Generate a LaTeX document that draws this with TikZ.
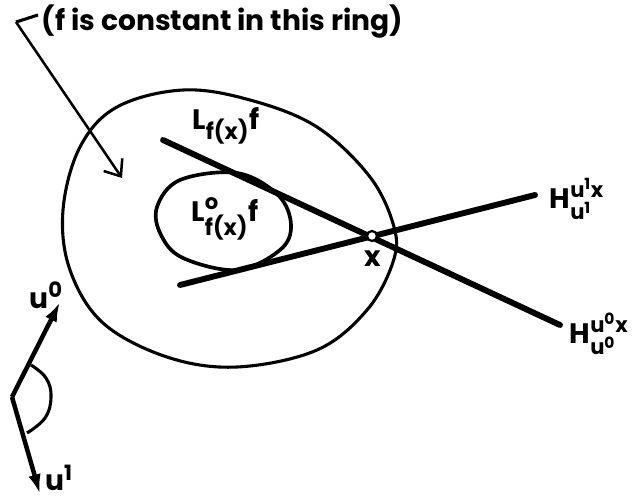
\documentclass[tikz,border=0pt]{standalone}
\usepackage{amsmath}
\usepackage{fontspec}
\setmainfont{Poppins}
\usetikzlibrary{arrows.meta}

% index text at a fixed size
\newcommand{\idx}[1]{\text{\fontsize{15}{15}\selectfont\bfseries #1}}
\newcommand{\idxl}[1]{\text{\fontsize{16}{16}\selectfont\bfseries #1}}
\newcommand{\idxx}[1]{\text{\fontsize{11}{11}\selectfont\bfseries #1}}

\begin{document}
\begin{tikzpicture}[
        x=0.025cm, y=-0.025cm,
        font=\fontsize{20}{22}\selectfont\bfseries,
        ring/.style={draw=black, line width=2.2pt},
        level/.style={draw=black, line width=4.2pt, line cap=round},
        pointer/.style={draw=black, line width=1.8pt, -{Straight Barb[length=10pt, width=16pt]}},
        vec/.style={draw=black, line width=3.2pt, -{Latex[length=14pt, width=9pt]}},
        lab/.style={inner sep=1pt}
    ]
    \useasboundingbox (0,0) rectangle (636,499);

    % Note on the ring
    \node[lab, anchor=west] (ringnote) at (40,22) {(f is constant in this ring)};
    \coordinate (hook) at (16,22);
    \coordinate (hookend) at (38,15);
    \coordinate (ringtip) at (122,178);
    \draw[ring] (hook) -- (hookend);
    \draw[pointer] (hook) -- (ringtip);

    % Outer ring
    \draw[ring] plot[smooth cycle, tension=0.6] coordinates {
        (183,90) (250,100) (317,127) (370,177) (394,227) (393,262)
        (367,310) (317,350) (237,367) (167,357) (103,323) (70,270)
        (63,210) (80,147) (117,107)};

    % Inner set
    \draw[ring, line width=2.6pt] plot[smooth cycle, tension=0.6] coordinates {
        (157,207) (180,180) (237,173) (278,195) (291,225) (280,250)
        (237,270) (183,258) (161,235)};

    % Lines through x
    \coordinate (x) at (372,236);
    \coordinate (lstart) at (163,140);
    \coordinate (lend) at (560,325);
    \coordinate (hstart) at (180,285);
    \coordinate (hend) at (535,195);
    \draw[level] (lstart) -- (lend);
    \draw[level] (hstart) -- (hend);
    \draw[fill=white, line width=1.6pt] (x) circle[radius=5];

    % Labels
    \node[lab] (lfnode) at (226,126) {$\text{L}_{\idxl{f(x)}}\text{f}$};
    \node[lab] (lonode) at (225,219) {$\text{L}^{\idx{o}}_{\idxl{f(x)}}\text{f}$};
    \node[lab] (xnode) at (373,259) {x};
    \node[lab, anchor=west] (h1node) at (548,199) {$\text{H}^{\idx{u}^{\idxx{1}}\idx{x}}_{\idx{u}^{\idxx{1}}}$};
    \node[lab, anchor=west] (h0node) at (568,334) {$\text{H}^{\idx{u}^{\idxx{0}}\idx{x}}_{\idx{u}^{\idxx{0}}}$};

    % Directions u0 and u1
    \coordinate (vtx) at (12,397);
    \coordinate (u0tip) at (60,302);
    \coordinate (u1tip) at (40,494);
    \draw[vec] (vtx) -- (u0tip);
    \draw[vec] (vtx) -- (u1tip);
    \draw[ring] plot[smooth, tension=0.7] coordinates {
        (31,365) (46,378) (51,397) (45,418) (27,433)};
    \node[lab] (u0node) at (46,295) {$\text{u}^{\idx{0}}$};
    \node[lab] (u1node) at (59,478) {$\text{u}^{\idx{1}}$};

\end{tikzpicture}
\end{document}
